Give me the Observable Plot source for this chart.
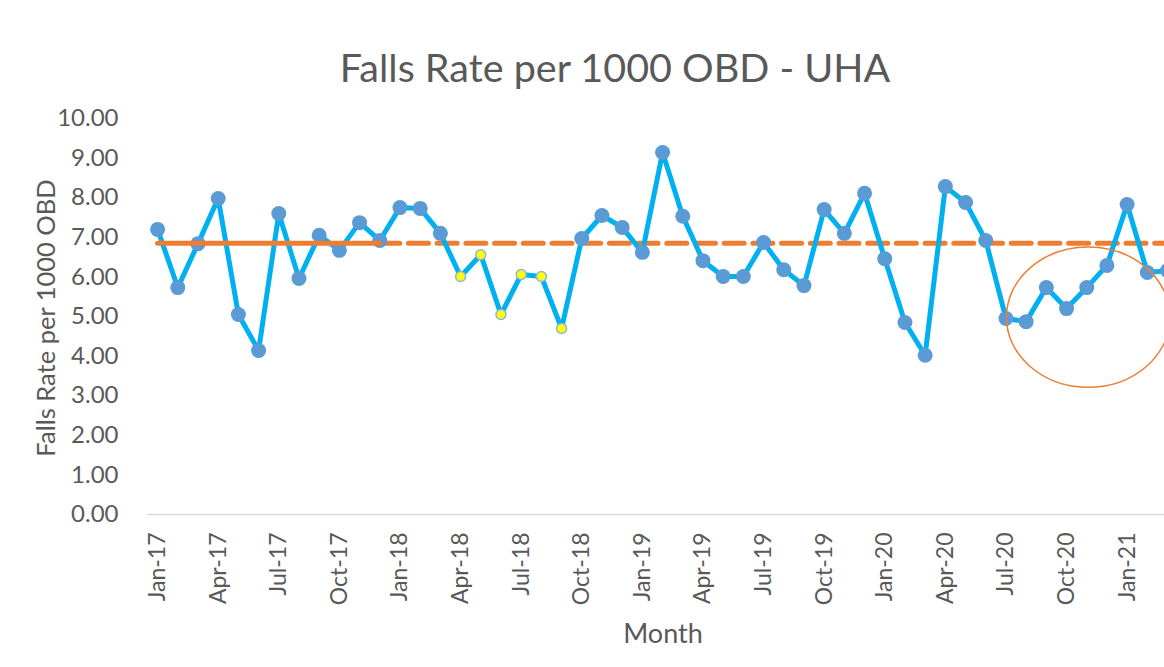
<!DOCTYPE html>
<html>
<head>
<meta charset="utf-8">
<script src="https://cdn.jsdelivr.net/npm/d3@7"></script>
<script src="https://cdn.jsdelivr.net/npm/@observablehq/plot@0.6"></script>
<style>
  html, body { margin: 0; padding: 0; background: #fff; overflow: hidden; }
</style>
</head>
<body>
<div id="chart"></div>
<script>
// ---- data ----
const months = [
  "Jan-17","Feb-17","Mar-17","Apr-17","May-17","Jun-17","Jul-17","Aug-17","Sep-17","Oct-17","Nov-17","Dec-17",
  "Jan-18","Feb-18","Mar-18","Apr-18","May-18","Jun-18","Jul-18","Aug-18","Sep-18","Oct-18","Nov-18","Dec-18",
  "Jan-19","Feb-19","Mar-19","Apr-19","May-19","Jun-19","Jul-19","Aug-19","Sep-19","Oct-19","Nov-19","Dec-19",
  "Jan-20","Feb-20","Mar-20","Apr-20","May-20","Jun-20","Jul-20","Aug-20","Sep-20","Oct-20","Nov-20","Dec-20",
  "Jan-21","Feb-21","Mar-21"
];
const rates = [
  7.20, 5.73, 6.84, 7.98, 5.05, 4.14, 7.60, 5.96, 7.05, 6.67, 7.37, 6.92,
  7.75, 7.73, 7.10, 6.01, 6.56, 5.05, 6.06, 6.01, 4.70, 6.97, 7.55, 7.25,
  6.62, 9.14, 7.53, 6.41, 6.01, 6.01, 6.87, 6.18, 5.78, 7.70, 7.10, 8.11,
  6.46, 4.85, 4.02, 8.28, 7.88, 6.92, 4.95, 4.87, 5.73, 5.20, 5.73, 6.29,
  7.83, 6.11, 6.16
];
// months flagged as a signal (yellow markers)
const signalMonths = ["Apr-18","May-18","Jun-18","Jul-18","Aug-18","Sep-18"];
// centre line: solid over the baseline period, dashed (extended) afterwards
const centreValue = 6.85;
const baselineMonths = ["Jan-17","Dec-17"];
const extendedMonths = ["Dec-17","Mar-21"];
// tick labels
const xTickLabels = ["Jan-17","Apr-17","Jul-17","Oct-17","Jan-18","Apr-18","Jul-18","Oct-18","Jan-19","Apr-19","Jul-19","Oct-19","Jan-20","Apr-20","Jul-20","Oct-20","Jan-21"];
const yTicks = [0,1,2,3,4,5,6,7,8,9,10];
// annotation ellipse around the recent run (centre month index, centre value, half-widths)
const ellipseCentre = {month: 46.1, value: 4.97};
const ellipseRadii = {months: 4.05, value: 1.77};

const titleText = "Falls Rate per 1000 OBD - UHA";
const yTitle = "Falls Rate per 1000 OBD";
const xTitle = "Month";

// ---- build ----
const idx = m => months.indexOf(m);
const data = months.map((m, i) => ({i, m, rate: rates[i], signal: signalMonths.includes(m)}));
const solidLine = baselineMonths.map(m => ({i: idx(m), v: centreValue}));
const dashLine = extendedMonths.map(m => ({i: idx(m), v: centreValue}));

const TEXT = "#595959";
const FONT = "Lato, 'Open Sans', sans-serif";

const ellipseMark = (index, scales) => {
  const {x, y} = scales;
  const cx = x(ellipseCentre.month), cy = y(ellipseCentre.value);
  const rx = Math.abs(x(ellipseCentre.month + ellipseRadii.months) - cx);
  const ry = Math.abs(y(ellipseCentre.value + ellipseRadii.value) - cy);
  const g = d3.create("svg:g");
  g.append("ellipse").attr("cx", cx).attr("cy", cy).attr("rx", rx).attr("ry", ry)
    .attr("fill", "none").attr("stroke", "#ED7D31").attr("stroke-width", 1.5);
  return g.node();
};

const svg = Plot.plot({
  width: 1164,
  height: 667,
  marginLeft: 147,
  marginRight: 0,
  marginTop: 118,
  marginBottom: 153,
  style: {fontFamily: FONT, color: TEXT, background: "#fff", overflow: "visible"},
  x: {type: "linear", domain: [-0.5, 49.85]},
  y: {domain: [0, 10]},
  marks: [
    Plot.ruleY([0], {stroke: "#D9D9D9", strokeWidth: 1.5}),
    Plot.axisY({ticks: yTicks, tickFormat: d3.format(".2f"), tickSize: 0, tickPadding: 29, fontSize: 24, label: null, fill: TEXT}),
    Plot.axisX({ticks: xTickLabels.map(idx), tickFormat: i => months[i], tickRotate: -90, tickSize: 0, tickPadding: 18, fontSize: 23, label: null, fill: TEXT}),
    Plot.line(dashLine, {x: "i", y: "v", stroke: "#ED7D31", strokeWidth: 5, strokeDasharray: "20,8.7"}),
    Plot.line(data, {x: "i", y: "rate", stroke: "#00B0F0", strokeWidth: 5, strokeLinejoin: "round"}),
    Plot.dot(data.filter(d => !d.signal), {x: "i", y: "rate", r: 7.5, fill: "#5B9BD5"}),
    Plot.dot(data.filter(d => d.signal), {x: "i", y: "rate", r: 5, fill: "#FFFF00", stroke: "#8DB4E2", strokeWidth: 1.5}),
    Plot.line(solidLine, {x: "i", y: "v", stroke: "#ED7D31", strokeWidth: 5}),
    ellipseMark
  ]
});

const s = d3.select(svg);
s.append("text").attr("x", 615).attr("y", 82).attr("text-anchor", "middle")
  .attr("fill", TEXT).style("font-family", FONT).style("font-size", "39.5px").text(titleText);
s.append("text").attr("transform", "translate(55,318) rotate(-90)").attr("text-anchor", "middle")
  .attr("fill", TEXT).style("font-family", FONT).style("font-size", "25.5px").text(yTitle);
s.append("text").attr("x", 663).attr("y", 643).attr("text-anchor", "middle")
  .attr("fill", TEXT).style("font-family", FONT).style("font-size", "27px").text(xTitle);

document.getElementById("chart").appendChild(svg);
</script>
</body>
</html>
